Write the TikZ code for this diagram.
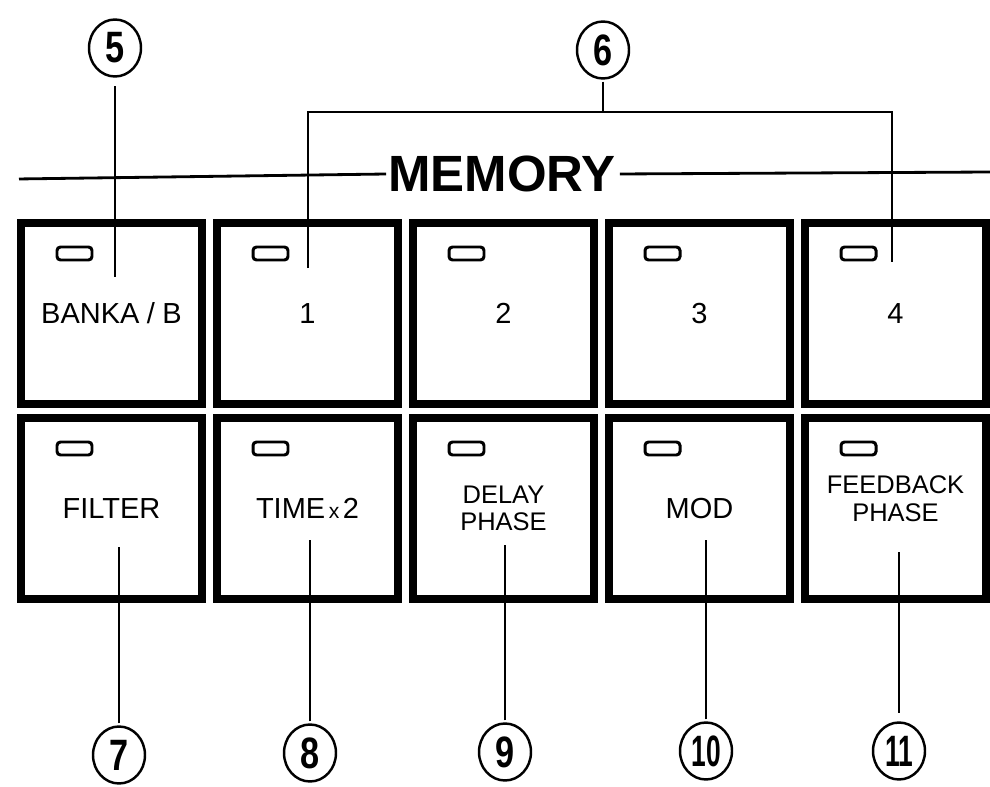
\documentclass[tikz,border=0pt]{standalone}
\usepackage{fontspec}
\setmainfont{Liberation Sans}
\usetikzlibrary{calc,shapes.geometric}

\begin{document}
\begin{tikzpicture}[
    x=0.02cm, y=-0.02cm,
    button/.style={
        draw,
        line width=0.15cm,
        align=center,
        minimum width=3.63cm,
        minimum height=3.63cm,
        inner sep=0pt,
        font=\fontsize{16.5}{18}\selectfont
    },
    twoline/.style={font=\fontsize{14.5}{15.5}\selectfont},
    led/.style={
        draw,
        line width=1.7pt,
        rounded corners=2pt,
        minimum width=0.7cm,
        minimum height=0.26cm,
        inner sep=0pt
    },
    callout/.style={
        draw,
        ellipse,
        line width=1.4pt,
        minimum width=1.04cm,
        minimum height=1.14cm,
        inner sep=0pt,
        font=\fontsize{25}{25}\selectfont\bfseries
    },
    title/.style={font=\fontsize{29}{29}\selectfont\bfseries, inner xsep=1pt, inner ysep=0pt},
    leader/.style={line width=1.6pt, shorten <=0.04cm}
]
\useasboundingbox (0,0) rectangle (990,787);

\node[button] (bank) at (111.5,313.5) {BANKA\hspace{0.15cm}/\hspace{0.15cm}B};
\node[button] (mem1) at (307.5,313.5) {1};
\node[button] (mem2) at (503.5,313.5) {2};
\node[button] (mem3) at (699.5,313.5) {3};
\node[button] (mem4) at (895.5,313.5) {4};

\node[button] (filter) at (111.5,508.5) {FILTER};
\node[button] (timex) at (307.5,508.5) {TIME{\fontsize{12}{12}\selectfont\,x\,}2};
\node[button, twoline] (delay) at (503.5,508.5) {DELAY\\PHASE};
\node[button] (mod) at (699.5,508.5) {MOD};
\node[button, twoline] (feedback) at (895.5,508.5) {FEEDBACK\\PHASE\\[-0.15cm]};

\foreach \b in {bank,mem1,mem2,mem3,mem4,filter,timex,delay,mod,feedback}
    \node[led] (led-\b) at ($(\b.center)+(-37,-60)$) {};

\node[title] (memory) at (502,174) {MEMORY};
\coordinate (mem-left) at (17,179);
\coordinate (mem-right) at (990,172);
\draw[leader] (mem-left) -- (memory.west);
\draw[leader] (memory.east) -- (mem-right);

\node[callout] (c5) at (115,48) {\scalebox{0.78}[1]{5}};
\node[callout] (c6) at (603,50) {\scalebox{0.78}[1]{6}};
\node[callout] (c7) at (119,755) {\scalebox{0.78}[1]{7}};
\node[callout] (c8) at (310,753) {\scalebox{0.78}[1]{8}};
\node[callout] (c9) at (505,752) {\scalebox{0.78}[1]{9}};
\node[callout] (c10) at (706,751) {\scalebox{0.6}[1]{10}};
\node[callout] (c11) at (899,751) {\scalebox{0.6}[1]{11}};

\coordinate (t5) at (115,277);
\coordinate (br) at (603,112);
\coordinate (t1) at (308,270);
\coordinate (t4) at (892,262);
\draw[leader, shorten <=0.17cm] (c5) -- (t5);
\draw[leader] (c6) -- (br);
\draw[leader] (t1) |- (br) -| (t4);

\coordinate (t7) at (119,547);
\coordinate (t8) at (310,540);
\coordinate (t9) at (505,545);
\coordinate (t10) at (706,540);
\coordinate (t11) at (899,552);
\draw[leader] (c7) -- (t7);
\draw[leader] (c8) -- (t8);
\draw[leader] (c9) -- (t9);
\draw[leader] (c10) -- (t10);
\draw[leader, shorten <=0.17cm] (c11) -- (t11);

\end{tikzpicture}
\end{document}
